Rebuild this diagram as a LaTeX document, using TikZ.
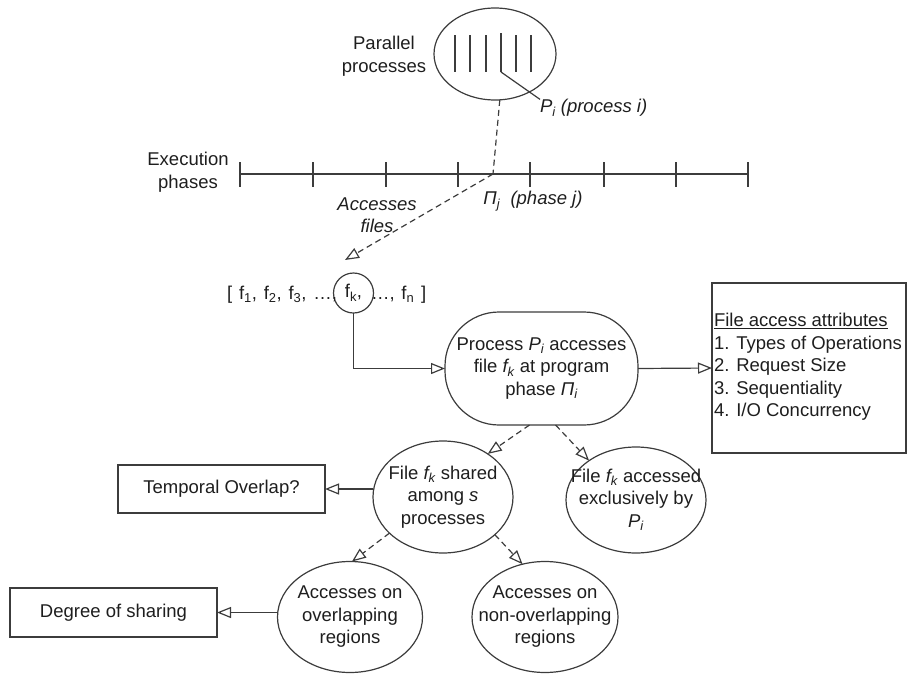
\documentclass[tikz,border=0pt]{standalone}
\usepackage{fontspec}
\setmainfont{Liberation Sans}
\usetikzlibrary{arrows.meta,shapes.geometric}
\definecolor{ln}{HTML}{3C3C3C}
\definecolor{tx}{HTML}{1E1E1E}
\newcommand{\fsp}{\hspace{6.8pt}}
\begin{document}
\begin{tikzpicture}[x=1pt,y=-1pt,
  every node/.style={font=\fontsize{18.5}{22.5}\selectfont, text=tx, inner sep=0pt, outer sep=0pt},
  itl/.style={font=\fontsize{18.5}{22.5}\selectfont\itshape},
  conn/.style={draw=ln, line width=1.2pt},
  oarrow/.style={conn, -{Triangle[open, length=14pt, width=11pt, line width=1.2pt]}},
  darrow/.style={oarrow, dash pattern=on 6pt off 4pt},
  dline/.style={conn, dash pattern=on 6pt off 4pt},
  ell/.style={ellipse, draw=ln, line width=1.2pt, inner sep=-25pt, align=center},
  boxn/.style={rectangle, draw=ln, line width=1.2pt},
]
\useasboundingbox (0,0) rectangle (908,675);

% parallel processes
\node[ell, minimum width=122, minimum height=92] (pp) at (495,54) {};
\node[align=center] (pplab) at (384,56) {Parallel\\processes};
\foreach \x in {455,470,486,516,531} \draw[conn] (\x,35) -- (\x,72);
\draw[conn, line width=2pt] (501,33) -- (501,72);
\coordinate (pstick) at (501,72);
\node[itl, anchor=west] (pilab) at (540,108) {P\textsubscript{i} (process i)};
\draw[conn] (pstick) -- (pilab.north west);

% execution phases
\coordinate (tj) at (493,174);
\draw[conn] (240,174) -- (748,174);
\foreach \x in {240,313,386,458,530,604,676,748} \draw[conn] (\x,162) -- (\x,187);
\draw[conn, line width=2.6pt] (458,174) -- (530,174);
\node[align=center] (exec) at (188,172) {Execution\\phases};
\node[itl] (phj) at (533,201) {Π\textsubscript{j}\ \ (phase j)};
\node[itl, align=center] (accf) at (377,215) {Accesses\\files};
\draw[dline] (pp.276) -- (tj);
\coordinate (acct) at (345,260);
\draw[darrow] (tj) -- (acct);

% files list
\node[circle, draw=ln, line width=1.2pt, minimum size=40] (fk) at (353.5,293) {f\textsubscript{k},};
\node[anchor=east] (fl) at (337,295) {[\fsp f\textsubscript{1},\fsp f\textsubscript{2},\fsp f\textsubscript{3},\fsp …,};
\node[anchor=west] (fr) at (371,295) {…,\fsp f\textsubscript{n}\fsp ]};

% process node
\node[boxn, rounded corners=54pt, minimum width=193, minimum height=113, align=center] (proc) at (541.5,368.5)
  {Process \textit{P\textsubscript{i}} accesses\\file \textit{f\textsubscript{k}} at program\\phase \textit{Π\textsubscript{i}}};
\draw[oarrow] (fk.south) |- (proc.west);

% attributes
\node[boxn, minimum width=194, minimum height=170] (attr) at (809,368) {};
\node[anchor=west, align=left] (attrtxt) at (714,367)
  {\underline{File access attributes}\\1. Types of Operations\\2. Request Size\\3. Sequentiality\\4. I/O Concurrency};
\draw[oarrow] (proc.east) -- (attr.west);

% second level
\node[ell, minimum width=140, minimum height=112] (sh) at (443,497)
  {File \textit{f\textsubscript{k}} shared\\among \textit{s}\\processes};
\node[ell, minimum width=140, minimum height=106] (exc) at (636,500)
  {File \textit{f\textsubscript{k}} accessed\\exclusively by\\\textit{P\textsubscript{i}}};
\node[boxn, minimum width=207, minimum height=48] (temp) at (221.5,489) {Temporal Overlap?};

% third level
\node[ell, minimum width=145, minimum height=111] (ovl) at (350,617) {Accesses on\\overlapping\\regions};
\node[ell, minimum width=146, minimum height=111] (non) at (545,617) {Accesses on\\non-overlapping\\regions};
\node[boxn, minimum width=207, minimum height=49] (deg) at (113.5,612.5) {Degree of sharing};

% connectors
\draw[darrow] (proc.258) -- (sh.44);
\draw[darrow] (proc.284) -- (exc.140);
\draw[oarrow] (sh.west |- temp.east) -- (temp.east);
\draw[darrow] (sh.214) -- (ovl.88);
\draw[darrow] (sh.324) -- (non.113);
\draw[oarrow] (ovl.west |- deg.east) -- (deg.east);
\end{tikzpicture}
\end{document}
